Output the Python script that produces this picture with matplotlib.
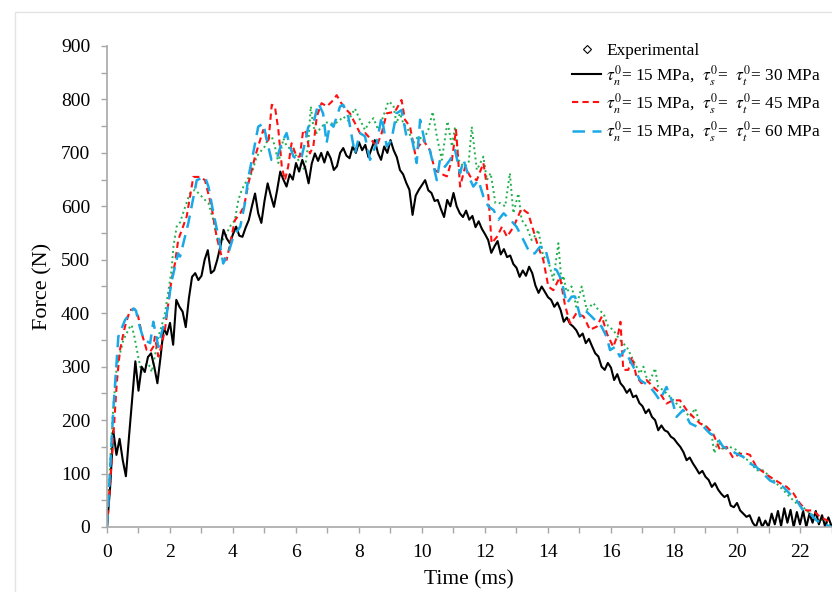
import numpy as np
import matplotlib
matplotlib.use("Agg")
import matplotlib.pyplot as plt
from matplotlib.lines import Line2D
from matplotlib.patches import Rectangle
from matplotlib.ticker import MultipleLocator

plt.rcParams['font.family'] = ['Liberation Serif', 'DejaVu Serif']
plt.rcParams['mathtext.fontset'] = 'stix'

# tau = 30 MPa (black, sampled every 0.1 ms)
t_black = np.round(np.arange(231) * 0.1, 1)
f_black = [0, 75, 180, 135, 165, 125, 95, 170, 240, 310,
           255, 300, 290, 318, 325, 300, 269, 318, 372, 360,
           382, 341, 425, 412, 403, 374, 428, 468, 475, 462,
           470, 500, 518, 475, 480, 500, 525, 556, 540, 531,
           548, 562, 545, 543, 560, 574, 600, 624, 587, 569,
           610, 643, 620, 599, 630, 665, 650, 637, 660, 650,
           681, 665, 687, 670, 643, 680, 699, 685, 700, 682,
           702, 690, 668, 675, 700, 709, 695, 690, 712, 700,
           720, 705, 715, 692, 708, 724, 700, 687, 712, 700,
           724, 705, 692, 668, 660, 644, 631, 584, 620, 631,
           640, 649, 630, 625, 610, 612, 595, 580, 612, 600,
           625, 600, 587, 580, 592, 575, 582, 561, 572, 558,
           548, 537, 513, 525, 535, 510, 520, 505, 508, 492,
           485, 468, 480, 470, 487, 475, 452, 438, 450, 440,
           430, 425, 412, 420, 406, 384, 392, 380, 375, 368,
           356, 362, 344, 352, 338, 325, 319, 300, 294, 307,
           298, 275, 286, 269, 262, 251, 258, 243, 246, 232,
           226, 213, 220, 206, 200, 181, 190, 181, 178, 169,
           165, 157, 150, 140, 125, 130, 119, 110, 100, 105,
           94, 88, 75, 82, 70, 62, 56, 60, 40, 37,
           45, 31, 25, 19, 22, 8, 0, 18, 0, 12,
           0, 25, 5, 30, 2, 35, 8, 32, 0, 28,
           5, 30, 0, 25, 8, 30, 5, 22, 0, 18,
           2]

# tau = 45 MPa (red)
t_red = [0, 0.1, 0.2, 0.31, 0.41, 0.57, 0.73, 0.87, 0.99, 1.1,
         1.26, 1.37, 1.47, 1.52, 1.63, 1.73, 1.84, 2.0, 2.05, 2.16,
         2.26, 2.53, 2.74, 2.95, 3.11, 3.32, 3.48, 3.64, 3.8, 3.91,
         4.06, 4.23, 4.35, 4.49, 4.7, 4.96, 5.12, 5.23, 5.33, 5.44,
         5.55, 5.65, 5.75, 5.86, 6.02, 6.12, 6.23, 6.33, 6.44, 6.55,
         6.66, 6.81, 6.98, 7.19, 7.29, 7.5, 7.71, 7.93, 8.03, 8.2,
         8.4, 8.56, 8.72, 8.88, 9.14, 9.35, 9.46, 9.62, 9.78, 9.89,
         10.04, 10.25, 10.41, 10.57, 10.79, 10.95, 11.08, 11.21, 11.37, 11.53,
         11.74, 11.95, 12.11, 12.21, 12.38, 12.54, 12.7, 12.91, 13.16, 13.37,
         13.53, 13.69, 13.85, 14.01, 14.17, 14.38, 14.54, 14.7, 14.9, 15.13,
         15.33, 15.55, 15.71, 15.87, 16.07, 16.23, 16.3, 16.39, 16.55, 16.66,
         16.81, 16.97, 17.13, 17.34, 17.55, 17.76, 17.97, 18.19, 18.4, 18.61,
         18.82, 19.03, 19.24, 19.46, 19.67, 19.88, 20.09, 20.3, 20.41, 20.62,
         20.83, 21.04, 21.37, 21.58, 21.79, 22.0, 22.2, 22.42, 22.63, 22.84,
         23.0]
f_red = [0, 82, 169, 269, 331, 375, 406, 408, 394, 363,
         331, 328, 337, 356, 319, 340, 369, 443, 462, 494,
         537, 581, 655, 655, 649, 599, 543, 506, 500, 531,
         574, 587, 600, 643, 693, 743, 718, 790, 787, 743,
         674, 649, 674, 718, 693, 693, 743, 737, 699, 712,
         768, 793, 787, 799, 808, 787, 774, 749, 737, 737,
         724, 712, 737, 774, 777, 799, 762, 749, 699, 712,
         724, 705, 668, 662, 656, 687, 743, 637, 674, 656,
         649, 681, 618, 531, 543, 562, 543, 562, 596, 587,
         556, 524, 500, 450, 443, 468, 415, 381, 400, 394,
         369, 375, 394, 362, 337, 362, 384, 294, 294, 319,
         281, 269, 275, 262, 251, 231, 237, 237, 219, 206,
         194, 188, 175, 144, 150, 129, 137, 137, 135, 112,
         103, 94, 82, 75, 63, 44, 31, 31, 19, 13,
         6]

# tau = 60 MPa (cyan)
t_cyan = [0, 0.1, 0.2, 0.36, 0.57, 0.84, 0.92, 1.0, 1.16, 1.37,
          1.47, 1.63, 1.73, 1.9, 2.05, 2.26, 2.32, 2.58, 2.85, 3.11,
          3.22, 3.38, 3.54, 3.69, 3.85, 4.01, 4.23, 4.38, 4.49, 4.64,
          4.8, 4.96, 5.12, 5.22, 5.38, 5.54, 5.7, 5.81, 5.92, 6.07,
          6.18, 6.28, 6.39, 6.55, 6.71, 6.86, 6.97, 7.08, 7.19, 7.4,
          7.5, 7.66, 7.77, 7.87, 8.03, 8.19, 8.35, 8.56, 8.72, 8.88,
          9.03, 9.19, 9.35, 9.51, 9.67, 9.83, 9.94, 10.1, 10.25, 10.47,
          10.57, 10.73, 10.89, 11.05, 11.21, 11.32, 11.48, 11.63, 11.79, 11.95,
          12.11, 12.27, 12.43, 12.59, 12.8, 13.0, 13.22, 13.43, 13.58, 13.74,
          13.9, 14.06, 14.27, 14.43, 14.59, 14.75, 14.86, 15.02, 15.17, 15.38,
          15.6, 15.7, 15.86, 15.97, 16.13, 16.28, 16.44, 16.6, 16.76, 16.92,
          17.08, 17.24, 17.4, 17.55, 17.76, 17.97, 18.08, 18.29, 18.51, 18.72,
          18.93, 19.14, 19.35, 19.56, 19.78, 19.99, 20.2, 20.41, 20.62, 20.83,
          21.05, 21.26, 21.47, 21.68, 21.89, 22.1, 22.32, 22.53, 22.74, 23.0]
f_cyan = [0, 110, 219, 356, 387, 409, 405, 383, 351, 344,
          384, 337, 362, 400, 460, 512, 506, 568, 649, 655,
          637, 587, 543, 493, 512, 543, 562, 606, 655, 699,
          749, 755, 712, 687, 687, 718, 737, 712, 693, 687,
          693, 718, 749, 755, 793, 774, 718, 755, 749, 787,
          790, 768, 731, 699, 737, 731, 687, 718, 768, 712,
          724, 774, 780, 730, 730, 681, 762, 718, 705, 649,
          687, 674, 687, 705, 662, 687, 656, 637, 649, 618,
          600, 593, 575, 587, 575, 562, 537, 512, 512, 524,
          524, 487, 481, 462, 418, 431, 431, 394, 406, 394,
          381, 375, 356, 331, 337, 319, 331, 312, 294, 275,
          269, 262, 250, 237, 262, 231, 206, 219, 194, 188,
          188, 175, 169, 150, 144, 137, 131, 119, 112, 100,
          87, 81, 75, 62, 50, 31, 25, 12, 6, 0]

# experimental (green dotted)
t_exp = [0, 0.1, 0.2, 0.31, 0.52, 0.73, 0.78, 0.87, 0.99, 1.1,
         1.21, 1.26, 1.37, 1.42, 1.52, 1.63, 1.73, 1.84, 1.95, 2.05,
         2.11, 2.21, 2.32, 2.48, 2.63, 2.79, 2.95, 3.11, 3.22, 3.38,
         3.48, 3.58, 3.75, 3.9, 4.06, 4.17, 4.28, 4.44, 4.6, 4.75,
         4.91, 5.01, 5.12, 5.23, 5.33, 5.44, 5.6, 5.71, 5.87, 6.02,
         6.12, 6.28, 6.39, 6.47, 6.55, 6.66, 6.81, 6.98, 7.09, 7.25,
         7.4, 7.5, 7.66, 7.87, 8.03, 8.19, 8.3, 8.46, 8.61, 8.77,
         8.93, 9.09, 9.19, 9.3, 9.41, 9.56, 9.72, 9.88, 10.04, 10.2,
         10.34, 10.47, 10.63, 10.81, 10.95, 11.05, 11.16, 11.32, 11.48, 11.58,
         11.74, 11.85, 11.95, 12.06, 12.18, 12.33, 12.48, 12.64, 12.79, 12.9,
         13.06, 13.16, 13.32, 13.48, 13.64, 13.69, 13.85, 14.0, 14.17, 14.33,
         14.43, 14.49, 14.59, 14.75, 14.9, 15.07, 15.23, 15.44, 15.6, 15.76,
         15.91, 16.07, 16.28, 16.5, 16.71, 16.92, 17.03, 17.18, 17.29, 17.4,
         17.5, 17.66, 17.87, 18.08, 18.29, 18.51, 18.67, 18.82, 19.03, 19.19,
         19.28, 19.4, 19.56, 19.77, 19.99, 20.2, 20.41, 20.62, 20.83, 21.05,
         21.26, 21.47, 21.68, 21.89, 22.1, 22.32, 22.53, 22.74, 22.9, 23.0]
f_exp = [0, 120, 225, 300, 350, 375, 378, 356, 319, 288,
         300, 306, 300, 290, 320, 356, 375, 400, 443, 481,
         525, 562, 570, 599, 624, 631, 622, 612, 606, 574,
         543, 531, 543, 562, 574, 612, 631, 649, 662, 693,
         705, 712, 727, 731, 712, 681, 727, 712, 706, 693,
         681, 668, 718, 787, 749, 737, 749, 757, 755, 755,
         762, 768, 760, 783, 762, 743, 755, 765, 743, 768,
         796, 790, 755, 774, 755, 743, 718, 731, 724, 743,
         777, 731, 687, 759, 712, 749, 687, 674, 681, 749,
         668, 681, 693, 649, 662, 606, 606, 600, 662, 587,
         624, 575, 562, 537, 549, 556, 506, 500, 462, 531,
         456, 470, 440, 450, 412, 450, 406, 419, 406, 400,
         375, 369, 350, 337, 312, 287, 300, 269, 281, 297,
         262, 256, 244, 231, 219, 206, 222, 194, 188, 175,
         138, 162, 144, 150, 144, 131, 122, 106, 106, 94,
         81, 69, 56, 44, 37, 25, 19, 12, 6, 3]

labels = ['Experimental',
          r'$\tau_n^0$= 15 MPa,  $\tau_s^0$=  $\tau_t^0$= 30 MPa',
          r'$\tau_n^0$= 15 MPa,  $\tau_s^0$=  $\tau_t^0$= 45 MPa',
          r'$\tau_n^0$= 15 MPa,  $\tau_s^0$=  $\tau_t^0$= 60 MPa']

fig = plt.figure(figsize=(8.32, 5.92), dpi=100)
ax = fig.add_axes([0.1286, 0.1098, 0.8708, 0.8125])

# light frame around the figure
fig.patches.append(Rectangle((15 / 832, -0.2), 1.2, (580 / 592) + 0.2,
                             transform=fig.transFigure, fill=False,
                             edgecolor='#e3e3e3', lw=1))

ax.plot(t_exp, f_exp, color='#1fb04c', ls=':', lw=1.4)
ax.plot(t_black, f_black, color='black', lw=1.5)
ax.plot(t_red, f_red, color='#ff1010', lw=1.5, dashes=(3, 2))
ax.plot(t_cyan, f_cyan, color='#1aa9e6', lw=1.8, dashes=(5, 3))

ax.set_xlim(0, 23)
ax.set_ylim(0, 900)
ax.xaxis.set_major_locator(MultipleLocator(2))
ax.xaxis.set_minor_locator(MultipleLocator(1))
ax.yaxis.set_major_locator(MultipleLocator(100))
ax.yaxis.set_minor_locator(MultipleLocator(50))

for s in ['top', 'right']:
    ax.spines[s].set_visible(False)
for s in ['left', 'bottom']:
    ax.spines[s].set_color('#a8a8a8')
    ax.spines[s].set_linewidth(1.2)
ax.tick_params(which='both', direction='out', length=4, width=1,
               color='#a8a8a8', labelsize=14, pad=8)

ax.set_xlabel('Time (ms)', fontsize=15.5, labelpad=7)
ax.set_ylabel('Force (N)', fontsize=16, labelpad=6)

handles = [Line2D([], [], ls='none', marker='D', ms=4, mfc='white',
                  mec='black', mew=0.8),
           Line2D([], [], color='black', lw=1.5),
           Line2D([], [], color='#ff1010', lw=1.5, dashes=(3, 2)),
           Line2D([], [], color='#1aa9e6', lw=1.8, dashes=(5, 3))]
ax.legend(handles, labels, loc='upper right', bbox_to_anchor=(0.995, 1.02),
          frameon=False, fontsize=12.4, handlelength=1.7, handletextpad=0.3,
          labelspacing=0.2, borderaxespad=0)

fig.savefig('out.png', dpi=100)
